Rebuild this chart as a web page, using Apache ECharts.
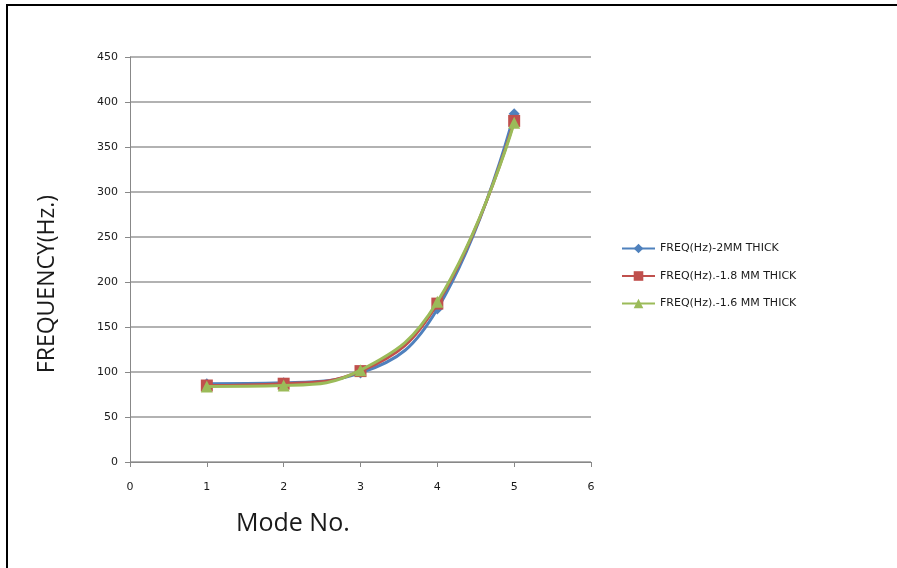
<!DOCTYPE html>
<html><head><meta charset="utf-8">
<script src="https://cdn.jsdelivr.net/npm/echarts@6/dist/echarts.min.js"></script>
<style>
html,body{margin:0;padding:0;background:#fff;}
#frame{position:absolute;left:6px;top:4px;width:900px;height:570px;border-top:2px solid #000;border-left:2px solid #000;}
#c{position:absolute;left:0;top:0;width:897px;height:568px;}
</style></head>
<body><div id="frame"></div><div id="c"></div>
<script>
const modes = [1, 2, 3, 4, 5];
const seriesNames = ['FREQ(Hz)-2MM THICK', 'FREQ(Hz).-1.8 MM THICK', 'FREQ(Hz).-1.6 MM THICK'];
const freq2mm = [87, 88, 99, 170, 387];
const freq18mm = [85, 87, 101, 176, 379];
const freq16mm = [84, 85, 102, 178, 377];
const xTicks = [0, 1, 2, 3, 4, 5, 6];
const yTicks = [0, 50, 100, 150, 200, 250, 300, 350, 400, 450];
const xTitle = 'Mode No.';
const yTitle = 'FREQUENCY(Hz.)';

const colors = ['#4F81BD', '#C0504D', '#9BBB59'];
const symbols = ['diamond', 'rect', 'triangle'];
const sizes = [11, 12, 12];
const values = [freq2mm, freq18mm, freq16mm];

const chart = echarts.init(document.getElementById('c'), null, {renderer: 'canvas'});
const labelStyle = {color: '#1a1a1a', fontSize: 11, fontFamily: 'DejaVu Sans', fontWeight: 'normal'};
chart.setOption({
  backgroundColor: 'transparent',
  animation: false,
  grid: {left: 130, right: 306, top: 57, bottom: 106},
  legend: {
    orient: 'vertical', left: 616, top: 238, itemGap: 16.5,
    itemWidth: 33, itemHeight: 12,
    textStyle: {color: '#1a1a1a', fontSize: 11, fontFamily: 'DejaVu Sans'},
    data: seriesNames
  },
  graphic: [
    {type: 'text', left: 236, top: 511, style: {text: xTitle, fontSize: 25, fill: '#1a1a1a', fontFamily: 'Open Sans'}},
    {type: 'text', x: 47, y: 284, rotation: Math.PI / 2,
      style: {text: yTitle, fontSize: 23, fill: '#1a1a1a', fontFamily: 'Open Sans', align: 'center', verticalAlign: 'middle'}}
  ],
  xAxis: {
    type: 'value', min: xTicks[0], max: xTicks[xTicks.length - 1], interval: 1,
    axisLine: {lineStyle: {color: '#888', width: 1}},
    axisTick: {show: true, length: 5, lineStyle: {color: '#888'}},
    axisLabel: Object.assign({margin: 20}, labelStyle),
    splitLine: {show: false}
  },
  yAxis: {
    type: 'value', min: yTicks[0], max: yTicks[yTicks.length - 1], interval: 50,
    axisLine: {show: true, lineStyle: {color: '#888', width: 1}},
    axisTick: {show: true, length: 5, lineStyle: {color: '#888'}},
    axisLabel: Object.assign({margin: 12}, labelStyle),
    splitLine: {show: true, lineStyle: {color: '#999', width: 1.5}}
  },
  series: values.map((v, i) => ({
    name: seriesNames[i], type: 'line', smooth: 0.45,
    data: modes.map((m, j) => [m, v[j]]),
    symbol: symbols[i], symbolSize: sizes[i],
    lineStyle: {color: colors[i], width: 3},
    itemStyle: {color: colors[i]},
    z: 2 + i
  }))
});
</script></body></html>
